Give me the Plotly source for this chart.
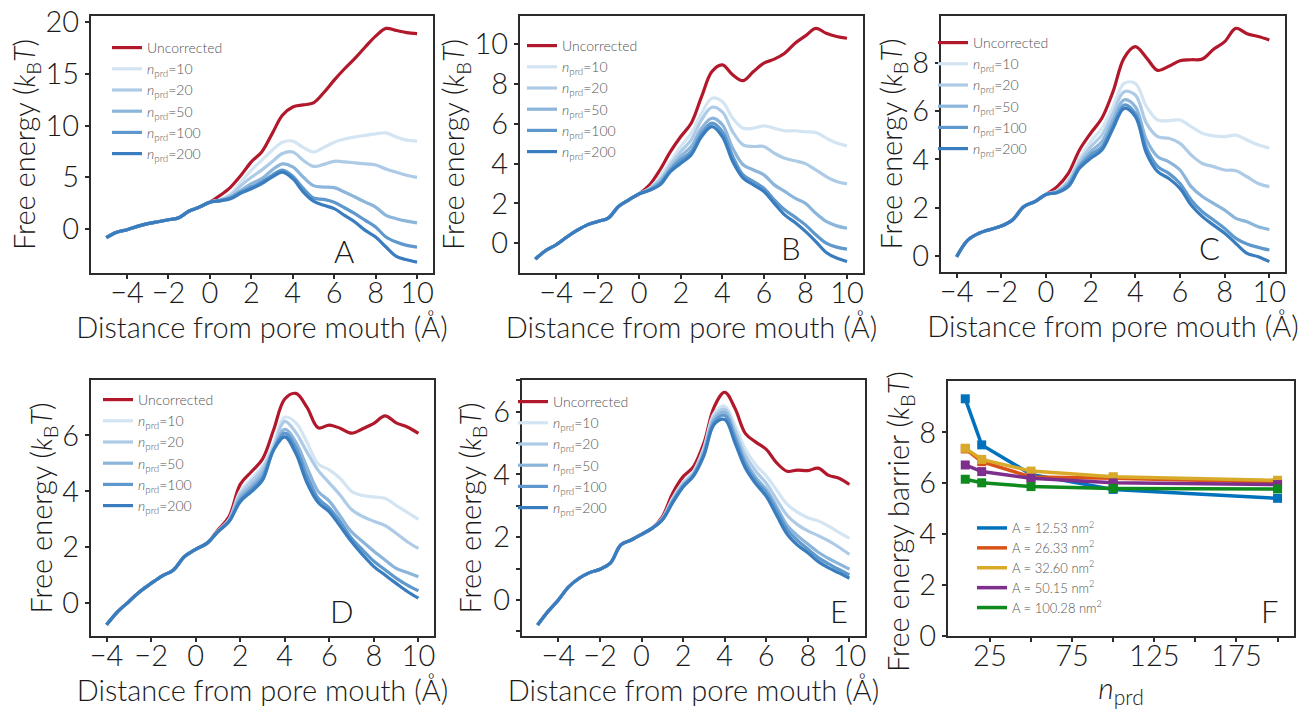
import plotly.graph_objects as go

# ------------------------------------------------------------------ data
x_m5 = [-5.0, -4.5, -4.0, -3.5, -3.0, -2.5, -2.0, -1.5, -1.0, -0.5, 0.0, 0.5,
        1.0, 1.5, 2.0, 2.5, 3.0, 3.5, 4.0, 4.5, 5.0, 5.5, 6.0, 6.5, 7.0, 7.5,
        8.0, 8.5, 9.0, 9.5, 10.0]
x_m4 = x_m5[2:]

series_names = ["Uncorrected", "<i>n</i><sub>prd</sub>=10", "<i>n</i><sub>prd</sub>=20",
                "<i>n</i><sub>prd</sub>=50", "<i>n</i><sub>prd</sub>=100", "<i>n</i><sub>prd</sub>=200"]

# Panel A  (x = -5 ... 10)
a_common = [-0.84, -0.32, -0.06, 0.26, 0.52, 0.71, 0.90, 1.10, 1.74, 2.13, 2.60]
a_uncorr = a_common + [3.26, 4.06, 5.2, 6.5, 7.45, 9.2, 11.0, 11.8, 12.0, 12.2, 13.2, 14.4, 15.5, 16.5, 17.6, 18.65, 19.4, 19.2, 19.0, 18.9]
a_n10 = a_common + [2.84, 3.4, 4.55, 5.7, 6.65, 7.6, 8.4, 8.5, 7.9, 7.45, 7.9, 8.4, 8.7, 8.9, 9.06, 9.2, 9.3, 8.9, 8.6, 8.5]
a_n20 = a_common + [2.8, 3.26, 4.2, 5.0, 5.7, 6.5, 7.3, 7.45, 6.65, 6.06, 6.25, 6.55, 6.5, 6.4, 6.3, 6.2, 5.8, 5.5, 5.2, 5.0]
a_n50 = a_common + [2.78, 3.1, 3.74, 4.4, 4.87, 5.7, 6.3, 6.0, 5.03, 4.2, 4.06, 4.0, 3.58, 3.1, 2.6, 2.13, 1.32, 1.0, 0.77, 0.6]
a_n100 = a_common + [2.75, 3.03, 3.58, 4.06, 4.55, 5.2, 5.7, 5.1, 3.95, 3.0, 2.87, 2.6, 2.06, 1.48, 0.84, 0.19, -0.77, -1.26, -1.58, -1.74]
a_n200 = a_common + [2.73, 2.93, 3.48, 3.9, 4.39, 5.03, 5.5, 4.87, 3.6, 2.7, 2.29, 1.97, 1.32, 0.68, -0.13, -0.77, -1.74, -2.65, -2.97, -3.2]

# Panel B  (x = -5 ... 10)
b_common = [-0.8, -0.37, -0.08, 0.3, 0.64, 0.92, 1.09, 1.26, 1.84, 2.18, 2.48]
b_uncorr = b_common + [2.93, 3.69, 4.6, 5.36, 6.03, 7.37, 8.63, 8.96, 8.46, 8.17, 8.63, 9.05, 9.25, 9.55, 10.05, 10.42, 10.8, 10.55, 10.39, 10.3]
b_n10 = b_common + [2.76, 3.35, 4.1, 4.86, 5.53, 6.53, 7.29, 7.12, 6.28, 5.78, 5.78, 5.9, 5.78, 5.65, 5.65, 5.6, 5.56, 5.28, 5.03, 4.89]
b_n20 = b_common + [2.73, 3.18, 3.94, 4.6, 5.19, 6.2, 6.83, 6.6, 5.6, 4.94, 4.86, 4.86, 4.52, 4.27, 4.14, 4.0, 3.68, 3.35, 3.1, 2.98]
b_n50 = b_common + [2.7, 3.1, 3.77, 4.36, 4.86, 5.78, 6.28, 5.95, 4.77, 3.94, 3.68, 3.43, 2.93, 2.6, 2.26, 2.0, 1.5, 1.09, 0.87, 0.75]
b_n100 = b_common + [2.68, 3.0, 3.68, 4.19, 4.6, 5.53, 6.03, 5.6, 4.36, 3.43, 3.1, 2.76, 2.18, 1.68, 1.31, 0.92, 0.42, 0.0, -0.2, -0.3]
b_n200 = b_common + [2.66, 2.93, 3.6, 4.02, 4.44, 5.36, 5.86, 5.36, 4.1, 3.27, 2.93, 2.6, 2.0, 1.42, 1.04, 0.59, 0.08, -0.47, -0.75, -0.92]

# Panel C  (x = -4 ... 10)
c_common = [-0.03, 0.66, 0.94, 1.1, 1.24, 1.49, 2.04, 2.25, 2.55]
c_uncorr = c_common + [2.87, 3.42, 4.39, 5.08, 5.7, 6.8, 8.2, 8.66, 8.2, 7.68, 7.85, 8.08, 8.12, 8.15, 8.55, 8.87, 9.42, 9.2, 9.08, 8.94]
c_n10 = c_common + [2.7, 3.14, 4.04, 4.73, 5.28, 6.18, 7.14, 7.14, 6.18, 5.63, 5.6, 5.63, 5.35, 5.08, 4.97, 4.94, 5.0, 4.8, 4.6, 4.46]
c_n20 = c_common + [2.68, 3.08, 3.9, 4.52, 5.0, 5.9, 6.8, 6.66, 5.49, 4.94, 4.87, 4.66, 4.18, 3.83, 3.7, 3.56, 3.53, 3.28, 3.0, 2.87]
c_n50 = c_common + [2.65, 3.0, 3.77, 4.32, 4.73, 5.63, 6.46, 6.18, 4.8, 4.11, 3.9, 3.56, 2.87, 2.46, 2.18, 1.9, 1.56, 1.42, 1.21, 1.1]
c_n100 = c_common + [2.64, 2.94, 3.7, 4.18, 4.52, 5.42, 6.25, 5.9, 4.46, 3.7, 3.42, 3.0, 2.32, 1.83, 1.49, 1.14, 0.73, 0.5, 0.36, 0.25]
c_n200 = c_common + [2.62, 2.87, 3.63, 4.04, 4.39, 5.28, 6.11, 5.77, 4.25, 3.49, 3.21, 2.8, 2.11, 1.63, 1.28, 0.94, 0.52, 0.11, -0.03, -0.23]

# Panel D  (x = -4 ... 10)
d_common = [-0.77, -0.3, 0.06, 0.42, 0.71, 0.98, 1.19, 1.67, 1.93, 2.14]
d_uncorr = d_common + [2.62, 3.1, 4.25, 4.7, 5.15, 6.2, 7.3, 7.5, 7.0, 6.27, 6.37, 6.25, 6.08, 6.24, 6.43, 6.7, 6.45, 6.3, 6.07]
d_n10 = d_common + [2.58, 3.0, 4.0, 4.45, 4.9, 5.7, 6.65, 6.45, 5.75, 4.98, 4.77, 4.45, 4.0, 3.85, 3.8, 3.75, 3.5, 3.25, 3.0]
d_n20 = d_common + [2.57, 2.97, 3.9, 4.35, 4.8, 5.6, 6.5, 6.1, 5.4, 4.75, 4.3, 3.85, 3.35, 3.1, 2.93, 2.78, 2.5, 2.2, 1.96]
d_n50 = d_common + [2.56, 2.95, 3.8, 4.2, 4.65, 5.5, 6.22, 5.75, 4.85, 4.0, 3.65, 3.1, 2.55, 2.2, 1.86, 1.55, 1.25, 1.1, 0.95]
d_n100 = d_common + [2.56, 2.93, 3.7, 4.08, 4.5, 5.5, 6.08, 5.55, 4.55, 3.75, 3.4, 2.9, 2.32, 1.9, 1.5, 1.2, 0.9, 0.65, 0.45]
d_n200 = d_common + [2.56, 2.92, 3.63, 3.99, 4.4, 5.48, 5.95, 5.35, 4.3, 3.6, 3.27, 2.74, 2.2, 1.73, 1.31, 1.01, 0.71, 0.42, 0.18]

# Panel E  (x = -5 ... 10)
e_common = [-0.8, -0.37, 0.0, 0.42, 0.69, 0.87, 0.98, 1.17, 1.75, 1.91, 2.09, 2.28]
e_uncorr = e_common + [2.65, 3.4, 3.93, 4.25, 5.0, 6.16, 6.62, 6.1, 5.3, 5.03, 4.8, 4.37, 4.1, 4.14, 4.12, 4.2, 3.97, 3.88, 3.68]
e_n10 = e_common + [2.6, 3.25, 3.75, 4.1, 4.85, 5.95, 6.18, 5.55, 4.8, 4.3, 3.95, 3.5, 3.05, 2.8, 2.62, 2.52, 2.35, 2.15, 1.96]
e_n20 = e_common + [2.58, 3.2, 3.7, 4.05, 4.78, 5.85, 6.08, 5.4, 4.6, 4.1, 3.72, 3.2, 2.7, 2.4, 2.2, 2.05, 1.88, 1.68, 1.45]
e_n50 = e_common + [2.57, 3.16, 3.66, 4.0, 4.7, 5.76, 5.98, 5.25, 4.42, 3.9, 3.52, 2.97, 2.38, 2.05, 1.78, 1.52, 1.32, 1.15, 0.98]
e_n100 = e_common + [2.56, 3.13, 3.63, 3.97, 4.65, 5.68, 5.88, 5.15, 4.32, 3.8, 3.42, 2.85, 2.25, 1.9, 1.62, 1.35, 1.15, 0.97, 0.8]
e_n200 = e_common + [2.55, 3.1, 3.6, 3.95, 4.6, 5.6, 5.75, 5.0, 4.2, 3.7, 3.3, 2.7, 2.1, 1.75, 1.5, 1.22, 1.02, 0.86, 0.69]

# Panel F
n_prd = [10, 20, 50, 100, 200]
area_labels = ["A = 12.53 nm<sup>2</sup>", "A = 26.33 nm<sup>2</sup>", "A = 32.60 nm<sup>2</sup>",
               "A = 50.15 nm<sup>2</sup>", "A = 100.28 nm<sup>2</sup>"]
barrier_12_53 = [9.32, 7.51, 6.35, 5.76, 5.41]
barrier_26_33 = [7.35, 6.85, 6.25, 6.20, 6.05]
barrier_32_60 = [7.38, 6.94, 6.48, 6.26, 6.12]
barrier_50_15 = [6.72, 6.46, 6.20, 6.02, 5.95]
barrier_100_28 = [6.16, 6.02, 5.87, 5.80, 5.78]

# ------------------------------------------------------------------ style
W, H = 1303, 709
FONT = "Lato"
INK = "#1a1a1a"
FRAME = "#2b2b2b"
TICK_SIZE = 29
TITLE_SIZE = 29
curve_colors = ["#b2182b", "#d3e4f2", "#adcbe6", "#8bb5da", "#5e98cd", "#3a7dbf"]
area_colors = ["#0072bd", "#d95319", "#d9aa2a", "#7e2f8e", "#0f8a1c"]


def px(x):
    return x / W


def py(y):
    return 1 - y / H


fig = go.Figure()

panels = [
    # id, x, series, domain px (l, r, t, b), xrange, yrange, yticks, legend (text x, first y), y-title standoff
    ("", x_m5, [a_uncorr, a_n10, a_n20, a_n50, a_n100, a_n200], (91, 433, 16, 273),
     [-5.74, 10.77], [-4.25, 20.6], [0, 5, 10, 15, 20], (147, 48), 1),
    ("2", x_m5, [b_uncorr, b_n10, b_n20, b_n50, b_n100, b_n200], (520, 863, 16, 273),
     [-5.74, 10.77], [-1.5, 11.42], [0, 2, 4, 6, 8, 10], (562, 46), 0),
    ("3", x_m4, [c_uncorr, c_n10, c_n20, c_n50, c_n100, c_n200], (941, 1285, 16, 272),
     [-4.70, 10.70], [-0.66, 9.93], [0, 2, 4, 6, 8], (973, 43), 1),
    ("4", x_m4, [d_uncorr, d_n10, d_n20, d_n50, d_n100, d_n200], (91, 434, 380, 636),
     [-4.70, 10.70], [-1.17, 7.98], [0, 2, 4, 6], (138, 400), 1),
    ("5", x_m5, [e_uncorr, e_n10, e_n20, e_n50, e_n100, e_n200], (522, 865, 380, 636),
     [-5.75, 10.75], [-1.15, 7.01], [0, 2, 4, 6], (553, 402), 3),
]

axis_common = dict(
    showline=True, mirror=True, linecolor=FRAME, linewidth=2,
    ticks="outside", ticklen=4, tickwidth=1.5, tickcolor=FRAME,
    showgrid=False, zeroline=False, automargin=False,
    tickfont=dict(family=FONT, size=TICK_SIZE, color=INK, weight=300),
)

layout = dict(
    width=W, height=H, margin=dict(l=0, r=0, t=0, b=0, autoexpand=False),
    paper_bgcolor="white", plot_bgcolor="white",
    font=dict(family=FONT, color=INK, weight=300),
)

ytitle = "Free energy (<i>k</i><sub>B</sub><i>T</i>)"
xtitle = "Distance from pore mouth (Å)"

for sid, xs, ser, (l, r, t, b), xr, yr, yt, (lx, ly), ystand in panels:
    leg = "legend" + sid
    for j, ys in enumerate(ser):
        fig.add_trace(go.Scatter(
            x=xs, y=ys, mode="lines", name=series_names[j],
            line=dict(color=curve_colors[j], width=3.2, shape="spline", smoothing=1.0),
            xaxis="x" + sid, yaxis="y" + sid, legend=leg,
        ))
    xa = dict(axis_common, domain=[px(l), px(r)], range=xr, anchor="y" + sid,
              tickmode="array", tickvals=[-4, -2, 0, 2, 4, 6, 8, 10], ticklabelstandoff=-11,
              title=dict(text=xtitle, font=dict(family=FONT, size=TITLE_SIZE, color=INK, weight=300),
                         standoff=1))
    ya = dict(axis_common, domain=[py(b), py(t)], range=yr, anchor="x" + sid,
              tickmode="array", tickvals=yt,
              title=dict(text=ytitle, font=dict(family=FONT, size=TITLE_SIZE, color=INK, weight=300),
                         standoff=ystand))
    if sid == "5":
        ya.pop("tickvals")
        ya.update(tickmode="linear", tick0=0, dtick=2,
                  minor=dict(dtick=1, ticks="outside", ticklen=4, tickwidth=1.5, tickcolor=FRAME))
    layout["xaxis" + sid] = xa
    layout["yaxis" + sid] = ya
    layout[leg] = dict(
        x=px(lx - 40), y=py(ly - 16), xanchor="left", yanchor="top",
        bgcolor="rgba(0,0,0,0)", borderwidth=0, tracegroupgap=0,
        font=dict(family=FONT, size=14, color="#555555", weight=300),
    )

# Panel F
f_series = [barrier_12_53, barrier_26_33, barrier_32_60, barrier_50_15, barrier_100_28]
for j, ys in enumerate(f_series):
    fig.add_trace(go.Scatter(
        x=n_prd, y=ys, mode="lines+markers", name=area_labels[j], showlegend=False,
        line=dict(color=area_colors[j], width=3.5),
        marker=dict(symbol="square", size=9, color=area_colors[j]),
        xaxis="x6", yaxis="y6", legendgroup="f%d" % j,
    ))
for j in range(len(f_series)):
    # legend entries show the line style only, as in the reference
    fig.add_trace(go.Scatter(
        x=[None], y=[None], mode="lines", name=area_labels[j],
        line=dict(color=area_colors[j], width=3.5),
        xaxis="x6", yaxis="y6", legend="legend6", legendgroup="f%d" % j,
    ))
layout["xaxis6"] = dict(axis_common, domain=[px(948), px(1294)], range=[-0.5, 210], anchor="y6",
                        tickmode="array", tickvals=[25, 50, 75, 100, 125, 150, 175, 200],
                        ticktext=["25", "", "75", "", "125", "", "175", ""], ticklabelstandoff=-11,
                        title=dict(text="<i>n</i><sub>prd</sub>",
                                   font=dict(family=FONT, size=30, color=INK, weight=300), standoff=0))
layout["yaxis6"] = dict(axis_common, domain=[py(636), py(381)], range=[0, 10.02], anchor="x6",
                        tickmode="array", tickvals=[0, 2, 4, 6, 8])
layout["legend6"] = dict(
    x=px(1012 - 40), y=py(526 - 13), xanchor="left", yanchor="top",
    bgcolor="rgba(0,0,0,0)", borderwidth=0, tracegroupgap=0,
    font=dict(family=FONT, size=13, color="#555555", weight=300),
)

annotations = []
for letter, (cx, cy) in zip("ABCDEF", [(344, 251), (791, 248), (1209, 248), (342, 611), (839, 611), (1270, 611)]):
    annotations.append(dict(
        text=letter, x=px(cx), y=py(cy), xref="paper", yref="paper",
        xanchor="center", yanchor="middle", showarrow=False,
        font=dict(family=FONT, size=31, color=INK, weight=300),
    ))
annotations.append(dict(
    text="Free energy barrier (<i>k</i><sub>B</sub><i>T</i>)", x=px(899), y=py(522),
    xref="paper", yref="paper", xanchor="center", yanchor="middle", textangle=-90,
    showarrow=False, font=dict(family=FONT, size=TITLE_SIZE, color=INK, weight=300),
))
layout["annotations"] = annotations

fig.update_layout(**layout)
# remove the browser's default 8px page margin so the figure sits at the window origin
fig.write_html("out.html", config={"displayModeBar": False},
               post_script="document.body.style.margin='0';")
